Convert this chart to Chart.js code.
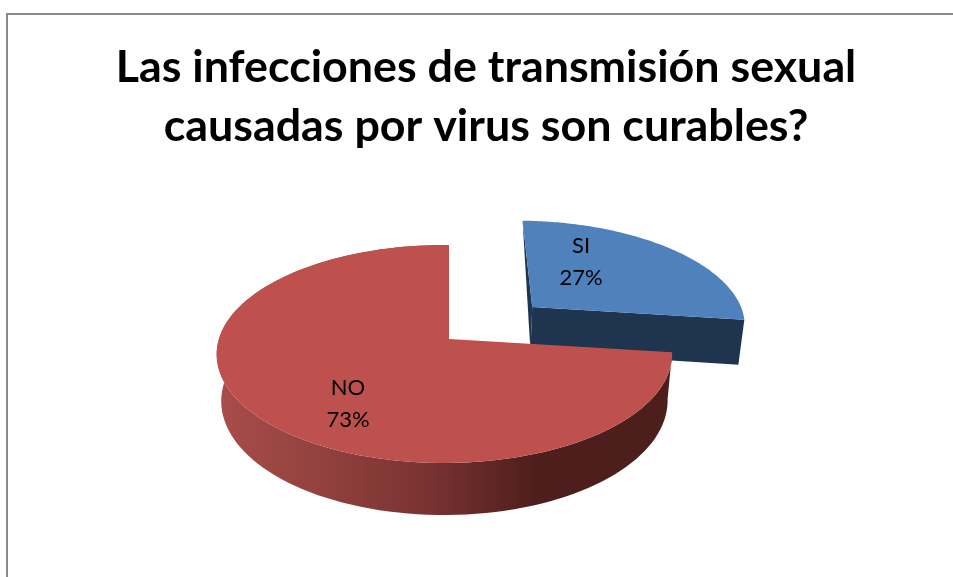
<!DOCTYPE html>
<html lang="es">
<head>
    <meta charset="UTF-8">
    <title>Infecciones de transmisión sexual</title>
    <script src="https://cdn.jsdelivr.net/npm/chart.js"></script>
    <style>
        html, body { margin: 0; padding: 0; background: #fff; overflow: hidden; }
        #wrap { position: relative; width: 953px; height: 577px; }
        #frame { position: absolute; left: 6px; top: 13px; width: 960px; height: 600px; border: 2px solid #8a8a8a; }
        canvas { position: absolute; left: 0; top: 0; }
    </style>
</head>
<body>
    <div id="wrap">
        <div id="frame"></div>
        <canvas id="myChart" width="953" height="577"></canvas>
    </div>
    <script>
        const categories = ['SI', 'NO'];
        const percentValues = [27, 73];
        const titleLines = ['Las infecciones de transmisión sexual', 'causadas por virus son curables?'];

        const topColors = ['#4f81bd', '#be504d'];
        const labelSpots = [[581, 262], [348, 404]];

        // how the flat pie is tilted: unit circle -> screen
        const apex = { x: 449, y: 339 };
        const radiusX = 225.5, radiusY = 106.9;
        const tiltV = -0.1376, tiltU = 0.02;
        const exploded = [0.5, 0];
        const explodeTurn = 0.04;

        function project(u, v) {
            const w = 1 + tiltV * v + tiltU * u;
            return { x: apex.x + radiusX * u / w, y: apex.y + radiusY * v / w };
        }

        // the lower rim of the pie
        function drop(p) {
            return { x: 445 + 0.98 * (p.x - 445), y: 1.048 * p.y + 29.8 };
        }

        function slicePoints(arc, i) {
            const mid = (arc.startAngle + arc.endAngle) / 2 + explodeTurn;
            const ou = exploded[i] * Math.cos(mid), ov = exploded[i] * Math.sin(mid);
            const rim = [];
            const steps = 120;
            for (let s = 0; s <= steps; s++) {
                const a = arc.startAngle + (arc.endAngle - arc.startAngle) * s / steps;
                rim.push(project(ou + Math.cos(a), ov + Math.sin(a)));
            }
            return { center: project(ou, ov), rim };
        }

        function tracePath(ctx, pts) {
            ctx.beginPath();
            pts.forEach((p, k) => k ? ctx.lineTo(p.x, p.y) : ctx.moveTo(p.x, p.y));
            ctx.closePath();
        }

        const tiltedPie = {
            id: 'tiltedPie',
            beforeDatasetsDraw(chart) {
                const ctx = chart.ctx;
                const arcs = chart.getDatasetMeta(0).data;
                ctx.save();

                // SI first, NO sits in front of it
                const si = slicePoints(arcs[0], 0);
                const siEnd = si.rim[si.rim.length - 1];
                ctx.fillStyle = '#1f344e';
                tracePath(ctx, [si.center, drop(si.center), drop(siEnd), siEnd]);
                ctx.fill();
                tracePath(ctx, [si.rim[0], drop(si.center), si.center]);
                ctx.fill();
                tracePath(ctx, [si.center, ...si.rim]);
                ctx.fillStyle = topColors[0];
                ctx.fill();

                const no = slicePoints(arcs[1], 1);
                const wall = ctx.createLinearGradient(225, 0, 670, 0);
                wall.addColorStop(0, '#a74c49');
                wall.addColorStop(0.2, '#93423f');
                wall.addColorStop(0.45, '#7a3332');
                wall.addColorStop(0.7, '#4e1e1c');
                wall.addColorStop(1, '#4c1e1c');
                tracePath(ctx, [...no.rim, ...no.rim.map(drop).reverse()]);
                ctx.fillStyle = wall;
                ctx.fill();
                tracePath(ctx, [no.center, ...no.rim]);
                ctx.fillStyle = topColors[1];
                ctx.fill();

                ctx.fillStyle = '#000';
                ctx.font = '22px Lato';
                ctx.textAlign = 'center';
                ctx.textBaseline = 'middle';
                categories.forEach((name, i) => {
                    ctx.fillText(name, labelSpots[i][0], labelSpots[i][1] - 16);
                    ctx.fillText(percentValues[i] + '%', labelSpots[i][0], labelSpots[i][1] + 16);
                });
                ctx.restore();
                return false;
            }
        };

        new Chart(document.getElementById('myChart').getContext('2d'), {
            type: 'pie',
            data: {
                labels: categories,
                datasets: [{ data: percentValues, backgroundColor: topColors, borderWidth: 0 }]
            },
            options: {
                responsive: false,
                animation: false,
                layout: { padding: { top: 28, left: 19, right: 0, bottom: 0 } },
                plugins: {
                    legend: { display: false },
                    tooltip: { enabled: false },
                    title: {
                        display: true,
                        text: titleLines,
                        color: '#000',
                        font: { family: 'Lato', size: 44.8, weight: 'bold', lineHeight: 1.32 }
                    }
                }
            },
            plugins: [tiltedPie]
        });
    </script>
</body>
</html>
